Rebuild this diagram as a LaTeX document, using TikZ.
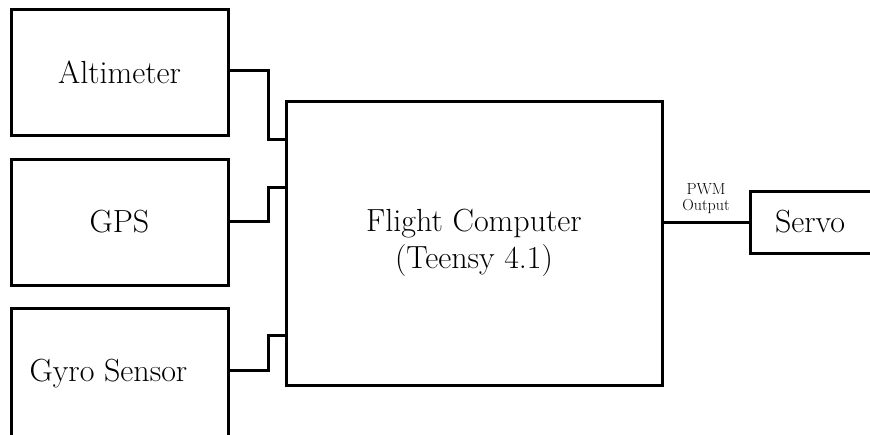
\documentclass[tikz,border=0pt]{standalone}
\begin{document}
\begin{tikzpicture}[x=1pt,y=-1pt,
  blk/.style={draw, line width=3pt, rectangle, inner sep=0pt, align=center,
    font=\fontsize{32}{37}\selectfont},
  wire/.style={line width=3pt, line cap=rect},
  lbl/.style={align=center, inner sep=0pt, font=\fontsize{16}{16}\selectfont}]
\useasboundingbox (0,0) rectangle (870,434);
\clip (0,0) rectangle (870,434);
\node[blk, minimum width=217, minimum height=126] (alt) at (119.5,72) {Altimeter};
\node[blk, minimum width=217, minimum height=126] (gps) at (119.5,222) {GPS};
\node[blk, minimum width=217, minimum height=132] (gyro) at (119.5,374) {Gyro Sensor\hspace*{22pt}};
\node[blk, minimum width=376, minimum height=284] (main) at (474,243) {Flight Computer\\(Teensy 4.1)};
\node[blk, minimum width=130, minimum height=62, text width=130, align=left] (servo) at (815,222) {\hspace*{25pt}Servo};
\draw[wire] ([yshift=2]alt.east) -- ++(39,0) |- ([yshift=-40]main.north west);
\draw[wire] ([yshift=1]gps.east) -- ++(39,0) |- ([yshift=-88]main.north west);
\draw[wire] ([yshift=4]gyro.east) -- ++(39,0) |- ([yshift=-236]main.north west);
\draw[wire] (servo.west -| main.east) -- (servo.west);
\node[lbl] (pwm) at (706,199) {PWM\\Output};
\end{tikzpicture}
\end{document}
